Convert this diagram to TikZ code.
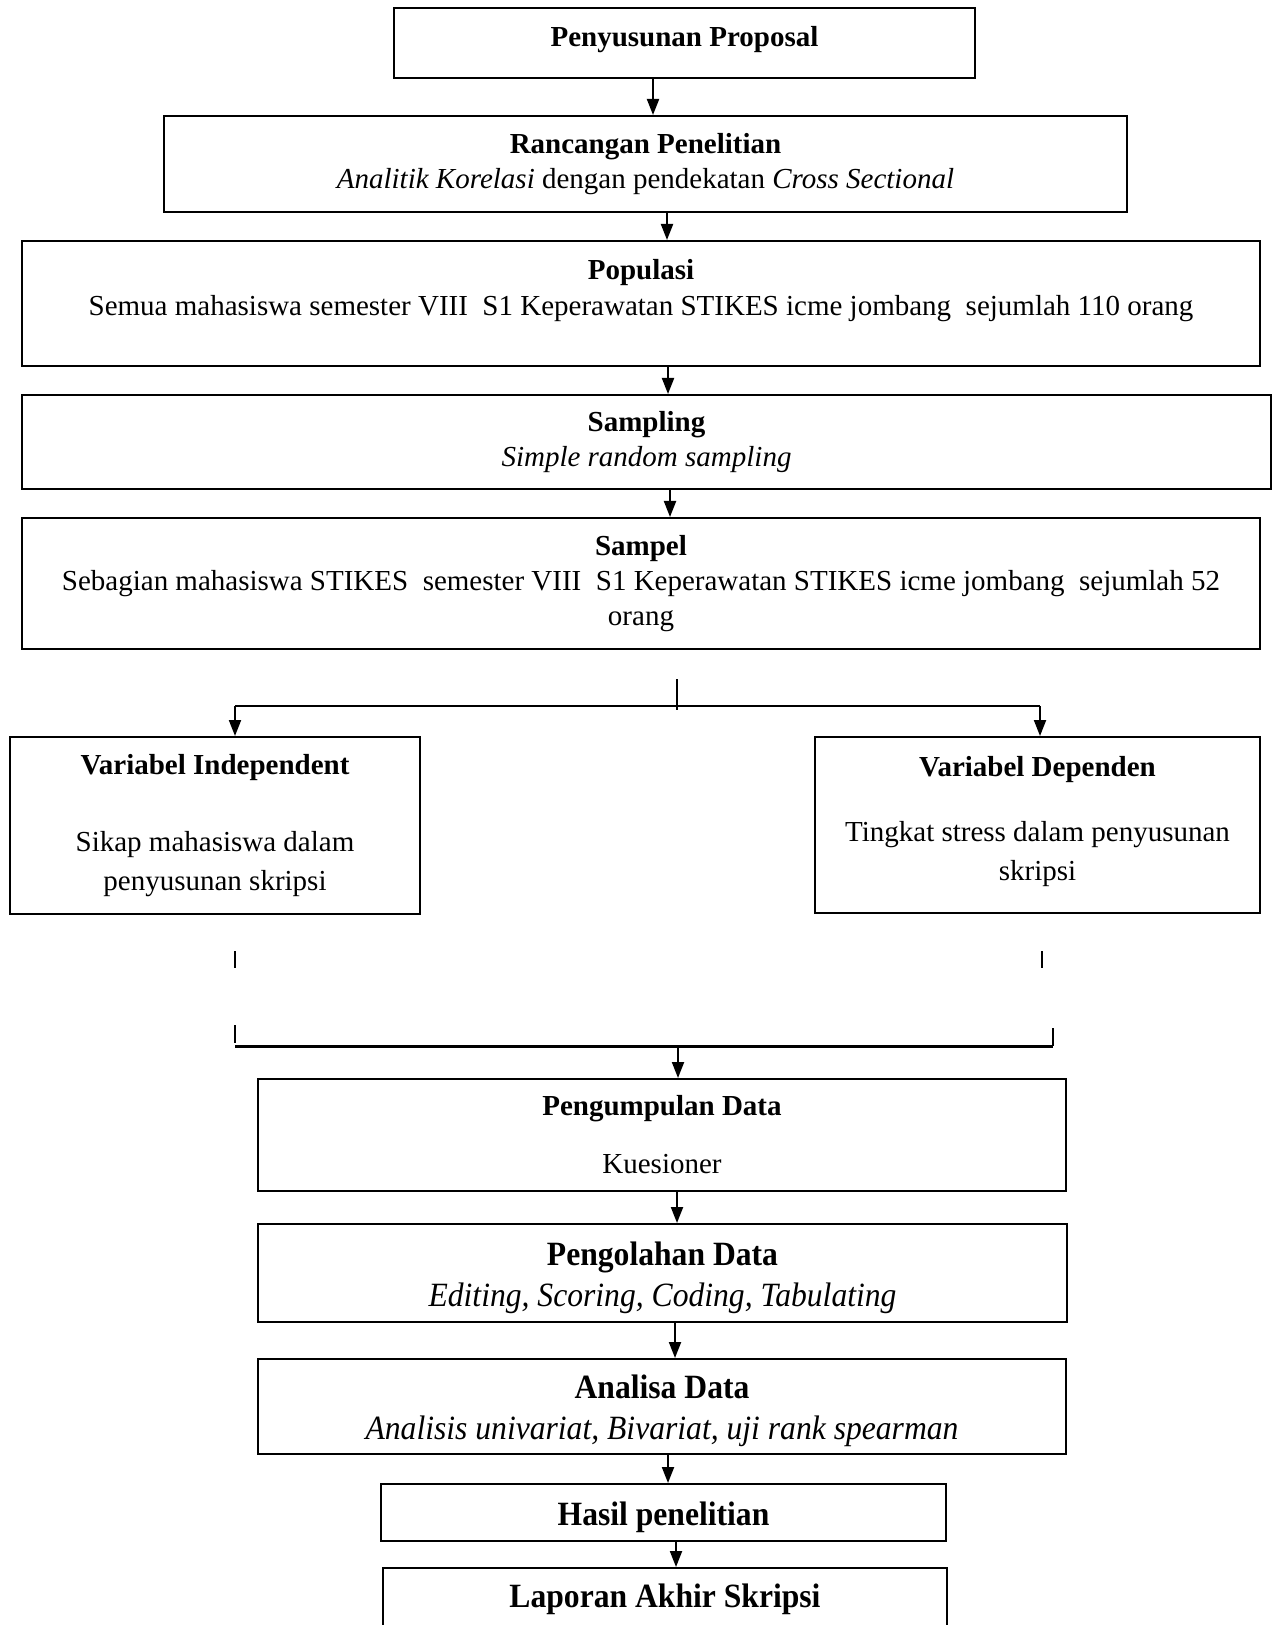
\documentclass[tikz,border=0pt]{standalone}
\usepackage{fontspec}
\setmainfont{Liberation Serif}
\newfontfamily\narrowserif[FakeStretch=0.93]{Liberation Serif}
\usetikzlibrary{arrows.meta}

\begin{document}
\begin{tikzpicture}[x=0.5pt, y=-0.5pt,
    box/.style={draw, line width=1pt, inner sep=0pt, align=center,
      font=\fontsize{14.5}{17.3}\selectfont},
    bigbox/.style={box, font=\narrowserif\fontsize{17}{20.5}\selectfont},
    arr/.style={-{Triangle[length=8pt,width=6pt]}, line width=1pt},
    tick/.style={line width=0.6pt}]
  \useasboundingbox (0,0) rectangle (1273,1625);
  \clip (0,0) rectangle (1273,1625);

  % alur penelitian
  \node[box, minimum width=290.5pt, minimum height=35pt, text depth=7pt] (proposal) at (684.5,43)
    {\textbf{Penyusunan Proposal}};
  \node[box, minimum width=481.5pt, minimum height=48pt] (rancangan) at (645.5,164)
    {\textbf{Rancangan Penelitian}\\ \textit{Analitik Korelasi} dengan pendekatan \textit{Cross Sectional}};
  \node[box, minimum width=619pt, minimum height=62.5pt, text depth=16pt,
        font=\fontsize{14.5}{18}\selectfont] (populasi) at (641,303.5)
    {\textbf{Populasi}\\ Semua mahasiswa semester VIII~ S1 Keperawatan STIKES icme jombang~ sejumlah 110 orang};
  \node[box, minimum width=624.5pt, minimum height=47pt] (sampling) at (646.5,442)
    {\textbf{Sampling}\\ \textit{Simple random sampling}};
  \node[box, minimum width=619pt, minimum height=65.5pt] (sampel) at (641,583.5)
    {\textbf{Sampel}\\ Sebagian mahasiswa STIKES~ semester VIII~ S1 Keperawatan STIKES icme jombang~ sejumlah 52\\ orang};

  \draw[arr] (653,0 |- proposal.south) -- (653,0 |- rancangan.north);
  \draw[arr] (667,0 |- rancangan.south) -- (667,0 |- populasi.north);
  \draw[arr] (668,0 |- populasi.south) -- (668,0 |- sampling.north);
  \draw[arr] (670,0 |- sampling.south) -- (670,0 |- sampel.north);

  % variabel
  \node[box, minimum width=205pt, minimum height=88.5pt, font=\fontsize{14.5}{19.3}\selectfont] (indep) at (215,825.5)
    {\textbf{Variabel Independent}\\[19.3pt] Sikap mahasiswa dalam\\ penyusunan skripsi};
  \node[box, minimum width=222.5pt, minimum height=88pt, text depth=7pt,
        font=\fontsize{14.5}{19.5}\selectfont] (dep) at (1037.5,825)
    {\textbf{Variabel Dependen}\\[13pt] Tingkat stress dalam penyusunan\\ skripsi};

  \coordinate (stub) at (677,679);
  \coordinate (split) at (677,710);
  \coordinate (lft) at (235,706);
  \coordinate (rgt) at (1040,706);
  \draw[tick] (stub) -- (split);
  \draw[line width=1.2pt] (lft) -- (rgt);
  \draw[arr] (lft) -- (lft |- indep.north);
  \draw[arr] (rgt) -- (rgt |- dep.north);

  \foreach \x/\ya/\yb in {235/951/968, 1042/951/968, 235/1025/1043, 1053/1028/1046}
    \draw[tick] (\x,\ya) -- (\x,\yb);

  \coordinate (ml) at (235,1046);
  \coordinate (mr) at (1053,1046);
  \coordinate (merge) at (678,1046);
  \draw[line width=1.5pt] (ml) -- (mr);

  % pengolahan
  \node[box, minimum width=404pt, minimum height=56pt] (kumpul) at (662,1135)
    {\textbf{Pengumpulan Data}\\[11.7pt] Kuesioner};
  \node[bigbox, minimum width=404.5pt, minimum height=49pt, text height=37pt] (olah) at (662.5,1273)
    {\textbf{Pengolahan Data}\\ \textit{Editing, Scoring, Coding, Tabulating}};
  \node[bigbox, minimum width=404pt, minimum height=47.5pt, text height=37pt] (analisa) at (662,1406.5)
    {\textbf{Analisa Data}\\ \textit{Analisis univariat, Bivariat, uji rank spearman}};
  \node[bigbox, minimum width=282.5pt, minimum height=28.5pt, text height=16.5pt] (hasil) at (663.5,1512.5)
    {\textbf{Hasil penelitian}};
  \node[bigbox, minimum width=282pt, minimum height=31pt] (laporan) at (665,1599)
    {\textbf{Laporan Akhir Skripsi}};

  \draw[arr] (merge) -- (merge |- kumpul.north);
  \draw[arr] (677,0 |- kumpul.south) -- (677,0 |- olah.north);
  \draw[arr] (675,0 |- olah.south) -- (675,0 |- analisa.north);
  \draw[arr] (668,0 |- analisa.south) -- (668,0 |- hasil.north);
  \draw[arr] (676,0 |- hasil.south) -- (676,0 |- laporan.north);
\end{tikzpicture}
\end{document}
